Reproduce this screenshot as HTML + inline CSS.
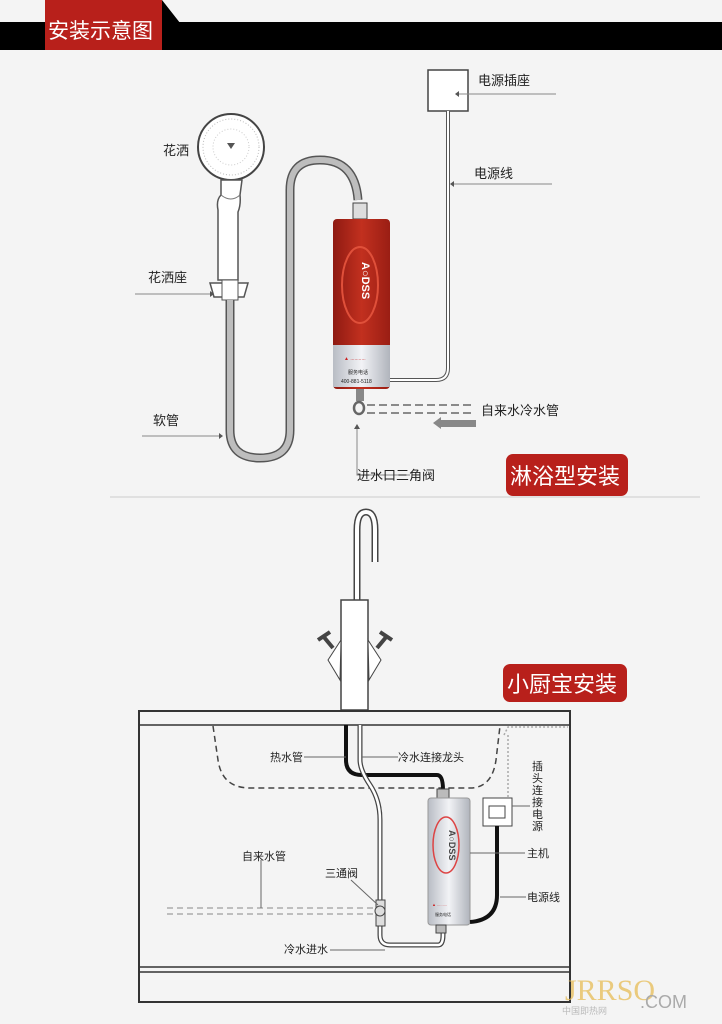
<!DOCTYPE html>
<html><head><meta charset="utf-8"><style>
html,body{margin:0;padding:0;background:#f4f4f4;}
svg{display:block;font-family:"Liberation Sans","Noto Sans CJK SC",sans-serif;}
</style></head><body>
<svg width="722" height="1024" viewBox="0 0 722 1024" xmlns="http://www.w3.org/2000/svg">
<defs>
<linearGradient id="red" x1="0" x2="1"><stop offset="0" stop-color="#8e1a12"/><stop offset="0.5" stop-color="#c2301f"/><stop offset="1" stop-color="#9a1e14"/></linearGradient>
<linearGradient id="sil" x1="0" x2="1"><stop offset="0" stop-color="#b8bcc4"/><stop offset="0.5" stop-color="#f2f3f6"/><stop offset="1" stop-color="#b0b4bc"/></linearGradient>
</defs>
<rect width="722" height="1024" fill="#f4f4f4"/>
<!-- header -->
<rect x="0" y="22" width="722" height="28" fill="#000"/>
<polygon points="45,0 162,0 184,28 162,28 162,50 45,50" fill="#000"/>
<rect x="45" y="0" width="117" height="50" fill="#b8201b"/>
<text x="48" y="38" font-size="21" fill="#fff">安装示意图</text>

<!-- shower head -->
<circle cx="231" cy="147" r="33" fill="#fff" stroke="#444" stroke-width="2"/>
<circle cx="231" cy="147" r="28" fill="none" stroke="#bbb" stroke-width="1" stroke-dasharray="1,2"/>
<circle cx="231" cy="147" r="18" fill="none" stroke="#ccc" stroke-width="1" stroke-dasharray="1,2"/>
<path d="M227,143 l8,0 l-4,6z" fill="#555"/>
<path d="M221,180 L242,180 L240,195 Q241,205 238,212 L238,280 L218,280 L218,210 Q216,200 221,195Z" fill="#fff" stroke="#555" stroke-width="1.5"/>
<path d="M221,195 Q231,203 240,195" fill="none" stroke="#777"/>
<path d="M210,283 L248,283 L244,297 L214,297Z" fill="#fff" stroke="#555" stroke-width="1.5"/>
<rect x="222" y="280" width="16" height="20" fill="#fff" stroke="#555"/>
<!-- hose -->
<path d="M230,300 L230,430 Q230,458 260,458 Q290,458 290,430 L290,190 Q290,160 320,160 Q355,160 358,200" fill="none" stroke="#555" stroke-width="9"/>
<path d="M230,300 L230,430 Q230,458 260,458 Q290,458 290,430 L290,190 Q290,160 320,160 Q355,160 358,200" fill="none" stroke="#bdbdbd" stroke-width="6"/>
<rect x="353" y="203" width="14" height="16" fill="#ddd" stroke="#444"/>
<!-- heater red -->
<rect x="333" y="219" width="57" height="170" rx="4" fill="url(#red)"/>
<rect x="333" y="345" width="57" height="42" fill="url(#sil)"/>
<ellipse cx="360" cy="285" rx="18" ry="38" fill="none" stroke="#e0503a" stroke-width="2"/>
<text x="0" y="0" font-size="11" fill="#fff" font-weight="bold" transform="translate(362,262) rotate(90)">A○DSS</text>
<text x="344" y="360" font-size="5" fill="#c22">▲ ...........</text>
<text x="348" y="374" font-size="5" fill="#222">服务电话</text>
<text x="341" y="383" font-size="5" fill="#222">400-881-5118</text>
<!-- inlet -->
<rect x="356" y="389" width="8" height="12" fill="#888"/>
<ellipse cx="359" cy="408" rx="5" ry="6" fill="none" stroke="#666" stroke-width="2.5"/>
<path d="M367,405 H475 M367,413 H475" stroke="#666" stroke-width="1.4" stroke-dasharray="8,4"/>
<path d="M433,423 L441,417 L441,420 L476,420 L476,427 L441,427 L441,429Z" fill="#888"/>
<!-- power -->
<rect x="428" y="70" width="40" height="41" fill="#fff" stroke="#444" stroke-width="1.5"/>
<path d="M448,111 L448,368 Q448,380 436,380 L390,380" fill="none" stroke="#555" stroke-width="4"/>
<path d="M448,111 L448,368 Q448,380 436,380 L390,380" fill="none" stroke="#fff" stroke-width="2"/>
<g stroke="#888" stroke-width="1" fill="none">
<path d="M457,94 H556"/><path d="M451,184 H552"/><path d="M135,294 H212"/><path d="M142,436 H220"/>
<path d="M357,428 V475 H410"/>
</g>
<g fill="#555"><path d="M455,94 l4,-3 v6z"/><path d="M450,184 l4,-3 v6z"/><path d="M214,294 l-4,-3 v6z"/><path d="M223,436 l-4,-3 v6z"/><path d="M357,424 l-3,5 h6z"/></g>
<g font-size="13" fill="#222">
<text x="478" y="85">电源插座</text>
<text x="474" y="178">电源线</text>
<text x="163" y="155">花洒</text>
<text x="148" y="282">花洒座</text>
<text x="153" y="425">软管</text>
<text x="481" y="415">自来水冷水管</text>
<text x="357" y="480">进水口三角阀</text>
</g>
<rect x="506" y="454" width="122" height="42" rx="7" fill="#b8201b"/>
<text x="510" y="484" font-size="22" fill="#fff">淋浴型安装</text>
<line x1="110" y1="497" x2="700" y2="497" stroke="#ccc"/>

<!-- faucet -->
<path d="M357,600 L357,530 Q357,512 366,512 Q375,512 375,530 L375,562" fill="none" stroke="#444" stroke-width="7"/>
<path d="M357,600 L357,530 Q357,512 366,512 Q375,512 375,530 L375,562" fill="none" stroke="#fff" stroke-width="4"/>
<rect x="341" y="600" width="27" height="110" fill="#fff" stroke="#444" stroke-width="1.5"/>
<path d="M341,640 L328,660 L340,680 Z" fill="#fff" stroke="#444"/>
<path d="M368,640 L381,660 L369,680 Z" fill="#fff" stroke="#444"/>
<path d="M318,640 L330,632 M323,636 L333,648" stroke="#444" stroke-width="4"/>
<path d="M392,640 L380,632 M387,636 L377,648" stroke="#444" stroke-width="4"/>
<rect x="503" y="664" width="124" height="38" rx="7" fill="#b8201b"/>
<text x="507" y="692" font-size="22" fill="#fff">小厨宝安装</text>
<!-- cabinet -->
<rect x="139" y="711" width="431" height="291" fill="none" stroke="#333" stroke-width="2"/>
<line x1="139" y1="725" x2="570" y2="725" stroke="#333" stroke-width="1.5"/>
<line x1="139" y1="967" x2="570" y2="967" stroke="#333" stroke-width="1.5"/>
<line x1="139" y1="972" x2="570" y2="972" stroke="#333" stroke-width="1.5"/>
<path d="M213,726 L218,760 Q222,788 250,788 L470,788 Q492,788 496,760 L500,726" fill="none" stroke="#444" stroke-width="1.5" stroke-dasharray="6,4"/>
<path d="M504,735 L508,727 L568,727 M508,735 L508,800 L500,800" fill="none" stroke="#aaa" stroke-width="1.5" stroke-dasharray="2,2"/>
<!-- pipes -->
<path d="M346,725 L346,760 Q346,775 362,775 L437,775 Q443,775 443,790 L443,798" fill="none" stroke="#111" stroke-width="4"/>
<path d="M360,725 L360,760 Q360,770 370,785 Q380,800 380,820 L380,935 Q380,945 390,945 L438,945 Q443,945 443,935 L443,925" fill="none" stroke="#444" stroke-width="5"/>
<path d="M360,725 L360,760 Q360,770 370,785 Q380,800 380,820 L380,935 Q380,945 390,945 L438,945 Q443,945 443,935 L443,925" fill="none" stroke="#fff" stroke-width="2.5"/>
<rect x="376" y="900" width="9" height="26" fill="#ddd" stroke="#444"/>
<circle cx="380" cy="911" r="5" fill="#ddd" stroke="#444"/>
<path d="M167,908 H375 M167,914 H375" stroke="#888" stroke-dasharray="6,4"/>
<!-- heater silver -->
<rect x="437" y="789" width="12" height="10" fill="#bbb" stroke="#444"/>
<rect x="428" y="798" width="42" height="127" rx="3" fill="url(#sil)" stroke="#999"/>
<ellipse cx="446" cy="845" rx="13" ry="28" fill="none" stroke="#d44" stroke-width="1.5"/>
<text font-size="9" fill="#444" font-weight="bold" transform="translate(449,830) rotate(90)">A○DSS</text>
<text x="432" y="906" font-size="4" fill="#c22">▲ .........</text>
<text x="435" y="916" font-size="4" fill="#222">服务电话</text>
<rect x="436" y="925" width="10" height="8" fill="#bbb" stroke="#444"/>
<!-- socket -->
<rect x="483" y="798" width="29" height="28" fill="#fff" stroke="#444"/>
<rect x="489" y="806" width="16" height="12" fill="none" stroke="#444"/>
<path d="M497,826 L497,895 Q497,920 470,922" fill="none" stroke="#111" stroke-width="4"/>
<g stroke="#666" stroke-width="1" fill="none">
<path d="M304,757 H346 M362,757 H398"/><path d="M261,860 V908"/><path d="M351,880 L378,905"/>
<path d="M330,950 H385"/><path d="M470,853 H525"/><path d="M500,897 H526"/><path d="M512,806 H530"/>
</g>
<g font-size="11" fill="#222">
<text x="270" y="761">热水管</text>
<text x="398" y="761">冷水连接龙头</text>
<text x="242" y="860">自来水管</text>
<text x="325" y="877">三通阀</text>
<text x="284" y="953">冷水进水</text>
<text x="527" y="857">主机</text>
<text x="527" y="901">电源线</text>
</g>
<text font-size="11" fill="#222"><tspan x="532" y="770">插</tspan><tspan x="532" y="782">头</tspan><tspan x="532" y="794">连</tspan><tspan x="532" y="806">接</tspan><tspan x="532" y="818">电</tspan><tspan x="532" y="830">源</tspan></text>
<!-- watermark -->
<text x="565" y="1000" font-size="30" fill="#e8c060" opacity="0.8" font-family="Liberation Serif,serif">JRRSO</text>
<text x="640" y="1008" font-size="18" fill="#aaa">.COM</text>
<text x="562" y="1014" font-size="9" fill="#bbb">中国即热网</text>
</svg>
</body></html>
